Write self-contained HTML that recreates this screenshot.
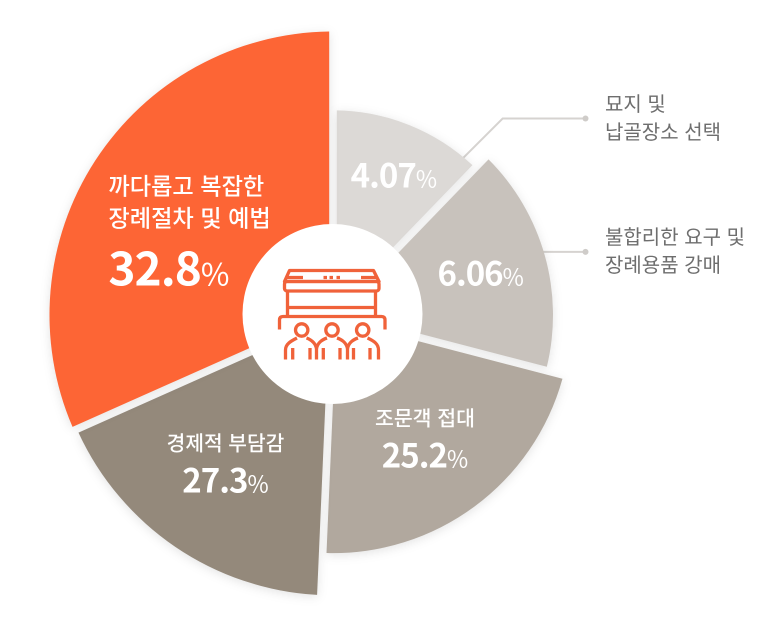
<!DOCTYPE html>
<html lang="ko">
<head>
<meta charset="utf-8">
<title>Funeral burden pie chart</title>
<style>
html,body{margin:0;padding:0;background:#fff;}
#chart{display:block;width:783px;height:630px;font-family:"Noto Sans CJK KR","Liberation Sans",sans-serif;}
.slice{filter:drop-shadow(0 2px 5px rgba(0,0,0,.11));}
.side{font-size:20px;fill:#6e6e6e;}
.cat{fill:#fff;font-weight:500;}
.val{fill:#fff;font-weight:700;letter-spacing:-1px;}
.pct{font-weight:400;letter-spacing:0;}
</style>
</head>
<body>
<svg id="chart" xmlns="http://www.w3.org/2000/svg" width="783" height="630" viewBox="0 0 783 630">
  <g id="leaders"></g>
  <g id="slices"></g>
  <g id="labels"></g>
  <circle cx="332.5" cy="314" r="90" fill="#fff"></circle>
  <g fill="none" stroke="#f0623a" stroke-width="3.3" stroke-linejoin="round">
    <path d="M289.5 270.5H373.5L379 281.5H284.5Z"></path>
    <rect x="284.5" y="281.5" width="94.5" height="9.5" rx="2.5"></rect>
    <path d="M287 277.5H303M361 277.5H377M323.5 277.5H327M329.5 277.5H333M336.5 277.5H340"></path>
    <path d="M287.5 291V316.5M375.5 291V316.5M287.5 307.5H375.5"></path>
    <path d="M279.5 329.5V320Q279.5 316.5 283 316.5H381.5Q385 316.5 385 320V329.5"></path>
    <circle cx="301.7" cy="330" r="6.2"></circle>
    <circle cx="332" cy="330" r="6.2"></circle>
    <circle cx="362.7" cy="330" r="6.2"></circle>
    <path d="M285.5 359.5V350C285.5 344 291 341 297 338M306.5 338C312 340 316 344 316.5 349V359.5M316.5 349C317 344 321 340 327 338M337 338C343 340 347 344 347.5 349V359.5M347.5 349C348 344 352 340 358 338M367.5 338C374 341 378.5 344 378.5 350V359.5"></path>
    <path d="M292.7 348V359.5M310 348V359.5M323.3 348V359.5M340 348V359.5M353.5 348V359.5M370 348V359.5"></path>
  </g>
  <text class="side" x="605" y="111">묘지 및</text>
  <text class="side" x="605" y="139">납골장소 선택</text>
  <text class="side" x="605" y="244">불합리한 요구 및</text>
  <text class="side" x="605" y="272">장례용품 강매</text>
</svg>
<script>
// Chart data
const categories = ["묘지 및 납골장소 선택", "불합리한 요구 및 장례용품 강매", "조문객 접대", "경제적 부담감", "까다롭고 복잡한 장례절차 및 예법"];
const seriesValues = [4.07, 6.06, 25.2, 27.3, 32.8];
// The picture is not drawn to scale: how much each value is widened / how far each slice reaches.
const angleEmphasis = [10.81, 10, 3.09, 2.326, 3.476];
const reachEmphasis = [0.722, 0.776, 0.84, 0.989, 1];

// Layout and style
const NS = "http://www.w3.org/2000/svg";
const cx = 333, cy = 315, maxR = 283.5, gap = 7.6, apexR = 50;
const fills = ["#dcd9d6", "#c8c2bc", "#b1a89e", "#94897b", "#fd6535"];
const labelShift = [[11, -4], [10, 9], [0, 28], [-5, 27], [-70, 71]];
const valueSize = [33, 33, 33, 33, 46];
const pctSize = [23, 23, 23, 23, 31];

function angleScale(values) {
  const weighted = values.map((v, i) => v * angleEmphasis[i]);
  const total = weighted.reduce((a, b) => a + b, 0);
  let run = 0;
  return weighted.map(w => {
    const start = run / total * 360;
    run += w;
    return [start, run / total * 360];
  });
}
function radiusScale(i) { return maxR * reachEmphasis[i]; }
function polar(deg, r) {
  const a = deg * Math.PI / 180;
  return [cx + r * Math.sin(a), cy - r * Math.cos(a)];
}
function sectorPath(a0, a1, r) {
  const d = (gap / 2) / r * 180 / Math.PI;
  const di = (gap / 2) / apexR * 180 / Math.PI;
  const p0 = polar(a0 + di, apexR), p1 = polar(a0 + d, r), p2 = polar(a1 - d, r), p3 = polar(a1 - di, apexR);
  const large = (a1 - a0) > 180 ? 1 : 0;
  return `M${p0[0]} ${p0[1]}L${p1[0]} ${p1[1]}A${r} ${r} 0 ${large} 1 ${p2[0]} ${p2[1]}L${p3[0]} ${p3[1]}Z`;
}
function textEl(parent, x, y, anchor, cls, size, content) {
  const t = document.createElementNS(NS, "text");
  t.setAttribute("x", x);
  t.setAttribute("y", y);
  t.setAttribute("text-anchor", anchor);
  t.setAttribute("class", cls);
  t.setAttribute("font-size", size);
  t.textContent = content;
  parent.appendChild(t);
  return t;
}

const angles = angleScale(seriesValues);
const sliceLayer = document.getElementById("slices");
const labelLayer = document.getElementById("labels");
const leaderLayer = document.getElementById("leaders");

// Leader lines, anchored to the outer edge of the two smallest slices
[[0, 0.9, 118.5], [1, 0.48, null]].forEach(item => {
  const i = item[0], a = angles[i][0] + (angles[i][1] - angles[i][0]) * item[1];
  const start = polar(a, radiusScale(i) - 3);
  const endY = item[2] === null ? start[1] : item[2];
  const elbowX = item[2] === null ? start[0] : start[0] + (start[1] - endY);
  const line = document.createElementNS(NS, "polyline");
  line.setAttribute("points", `${start[0]},${start[1]} ${elbowX},${endY} 585.5,${endY}`);
  line.setAttribute("fill", "none");
  line.setAttribute("stroke", "#d6d3d0");
  line.setAttribute("stroke-width", "2");
  
  
  leaderLayer.appendChild(line);
  const dot = document.createElementNS(NS, "circle");
  dot.setAttribute("cx", "585.5");
  dot.setAttribute("cy", endY);
  dot.setAttribute("r", "3");
  dot.setAttribute("fill", "#cfccc9");
  
  
  leaderLayer.appendChild(dot);
});

seriesValues.forEach((v, i) => {
  const r = radiusScale(i);
  const path = document.createElementNS(NS, "path");
  path.setAttribute("d", sectorPath(angles[i][0], angles[i][1], r));
  path.setAttribute("fill", fills[i]);
  path.setAttribute("class", "slice");
  
  
  const tip = document.createElementNS(NS, "title");
  tip.textContent = categories[i] + " " + v + "%";
  path.appendChild(tip);
  sliceLayer.appendChild(path);

  const mid = (angles[i][0] + angles[i][1]) / 2;
  const p = polar(mid, maxR * reachEmphasis[i] * 0.65);
  const x = p[0] + labelShift[i][0], y = p[1] + labelShift[i][1];
  const anchor = i === 4 ? "start" : "middle";
  const val = textEl(labelLayer, x, y, anchor, "val", valueSize[i], String(v));
  
  
  const pct = document.createElementNS(NS, "tspan");
  pct.setAttribute("class", "pct");
  pct.setAttribute("font-size", pctSize[i]);
  pct.setAttribute("dx", "0");
  pct.textContent = "%";
  val.appendChild(pct);
});

// Category captions inside the three largest slices, positioned above their value
const captions = [
  [2, ["조문객 접대"], 20.5],
  [3, ["경제적 부담감"], 20.3],
  [4, ["까다롭고 복잡한", "장례절차 및 예법"], 23.2]
];
captions.forEach(c => {
  const i = c[0], lines = c[1];
  const mid = (angles[i][0] + angles[i][1]) / 2;
  const p = polar(mid, radiusScale(i) * 0.65);
  const x = p[0] + labelShift[i][0], y = p[1] + labelShift[i][1];
  lines.forEach((s, k) => {
    const top = i === 4 ? y - 91 + k * 32 : y - 42;
    const t = textEl(labelLayer, x, top, i === 4 ? "start" : "middle", "cat", c[2], s);
    
    
  });
});
</script>
</body>
</html>
